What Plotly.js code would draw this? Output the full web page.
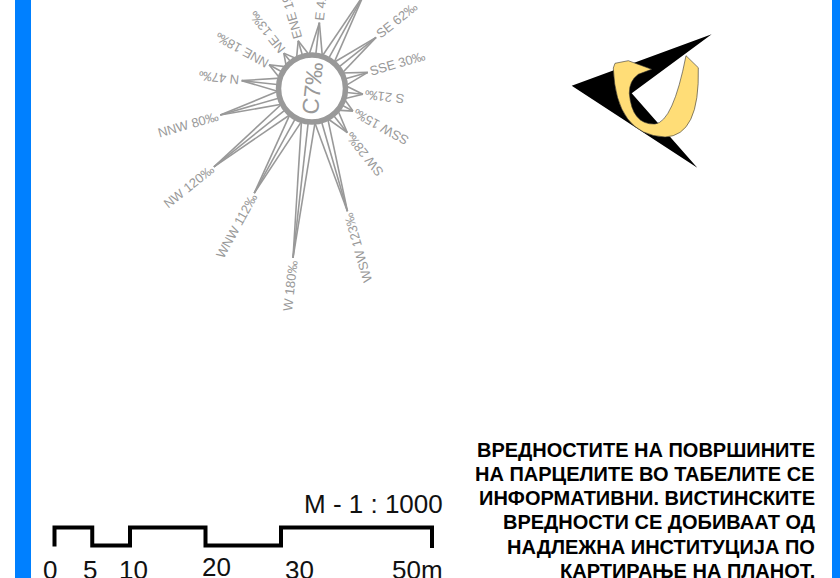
<!DOCTYPE html>
<html>
<head>
<meta charset="utf-8">
<script src="https://cdn.plot.ly/plotly-3.0.1.min.js"></script>
<style>html,body{margin:0;padding:0;background:#fff;overflow:hidden;width:840px;height:578px}#chart{position:absolute;left:0;top:-40px;width:840px;height:658px}</style>
</head>
<body>
<div id="chart"></div>
<script>
// Wind rose data (clockwise order on the page, starting at W)
var directions = ["W","WNW","NW","NNW","N","NNE","NE","ENE","E","ESE","SE","SSE","S","SSW","SW","WSW"];
var frequencies = [180,112,120,80,47,18,13,19,41,95,62,30,21,15,28,123];
var calmLabel = "C7‰";
// Scale bar
var scaleMetres = [0,5,10,20,30,50];
var scaleTickText = ["0","5","10","20","30","50m"];
var scaleLabel = "M - 1 : 1000";
// Note
var noteLines = ["ВРЕДНОСТИТЕ НА ПОВРШИНИТЕ","НА ПАРЦЕЛИТЕ ВО ТАБЕЛИТЕ СЕ","ИНФОРМАТИВНИ. ВИСТИНСКИТЕ","ВРЕДНОСТИ СЕ ДОБИВААТ ОД","НАДЛЕЖНА ИНСТИТУЦИЈА ПО","КАРТИРАЊЕ НА ПЛАНОТ."];

var GREY = "#999999", BLUE = "#0080FF", FONT = "Liberation Sans, Arial, sans-serif";
var cx = 312, cy = 88.5, ringR = 33, baseDeg = 6.4, stepDeg = 22.5;
var canvas = document.createElement("canvas").getContext("2d");
canvas.font = "13px 'Liberation Sans'";

function pol(r, deg){ var a = deg*Math.PI/180; return [cx + r*Math.sin(a), cy - r*Math.cos(a)]; }
function tipRadius(v){ return 35.5 + 0.75*v; }

var sx = [], sy = [], annotations = [];
directions.forEach(function(d, i){
  var k = (i*stepDeg) + 180 + baseDeg, tipR = tipRadius(frequencies[i]);
  var tip = pol(tipR, k);
  [-12, 0, 12].forEach(function(off){
    var b = pol(ringR, k + off);
    sx.push(tip[0], b[0], null); sy.push(tip[1], b[1], null);
  });
  var label = d + " " + frequencies[i] + "‰";
  var w = canvas.measureText(label).width;
  var c = pol(tipR + 2 + w/2, k);
  var turn = i%8;
  var angle = -90 + baseDeg + turn*stepDeg + (turn >= 4 ? 180 : 0);
  if (angle > 180) angle -= 360;
  annotations.push({x:c[0], y:c[1], xref:"x", yref:"y", text:label, showarrow:false,
    xanchor:"center", yanchor:"middle", textangle:angle,
    font:{family:FONT, size:13, color:GREY}});
});
annotations.push({x:cx, y:cy, xref:"x", yref:"y", text:calmLabel, showarrow:false, xanchor:"center", yanchor:"middle",
  textangle:-84, font:{family:FONT, size:23, color:GREY}});

// Scale bar drawn from its metre values
function mx(m){ return 54.5 + 7.55*m; }
var barTop = 527.5, barLow = 545.5;
var barX = [mx(0)], barY = [546.5];
for (var j=0; j<scaleMetres.length-1; j++){
  var lev = (j%2===0 || j===4) ? barTop : barLow;
  barX.push(mx(scaleMetres[j]), mx(scaleMetres[j+1]));
  barY.push(lev, lev);
}
barX.push(mx(50)); barY.push(548);
var tickY = [570,570,570,567,570,570], tickDx = [-4.5,-2,3,11,18,-15];
scaleTickText.forEach(function(t,i){
  annotations.push({x:mx(scaleMetres[i])+tickDx[i], y:tickY[i], xref:"x", yref:"y", text:t, showarrow:false,
    xanchor:"center", yanchor:"middle", font:{family:FONT, size:26, color:"#111"}});
});
annotations.push({x:445, y:503.5, xref:"x", yref:"y", text:scaleLabel, showarrow:false, xanchor:"right", yanchor:"middle",
  font:{family:FONT, size:26, color:"#111"}});

var noteY = [449.5,473.5,497.5,522,546.5,571];
noteLines.forEach(function(t,i){
  annotations.push({x:817, y:noteY[i], xref:"x", yref:"y", text:"<b>"+t+"</b>", showarrow:false, xanchor:"right", yanchor:"middle",
    font:{family:FONT, size:20, color:"#000"}});
});

var traces = [
  {type:"scatter", mode:"lines", x:sx, y:sy, line:{color:GREY, width:1.6}, hoverinfo:"skip", showlegend:false, cliponaxis:false},
  {type:"scatter", mode:"markers", x:[cx], y:[cy], marker:{size:67, color:"#fff", line:{color:GREY, width:5.5}}, hoverinfo:"skip", showlegend:false},
  {type:"scatter", mode:"lines", x:barX, y:barY, line:{color:"#000", width:4, shape:"linear"}, hoverinfo:"skip", showlegend:false}
];

var shapes = [
  {type:"rect", xref:"x", yref:"y", x0:15, x1:31, y0:-40, y1:618, fillcolor:BLUE, line:{width:0}},
  {type:"rect", xref:"x", yref:"y", x0:832, x1:840, y0:-40, y1:618, fillcolor:BLUE, line:{width:0}},
  {type:"path", xref:"x", yref:"y", fillcolor:"#000", line:{width:0},
   path:"M571.7,85.7 L711.7,34.3 L631.7,93.3 L697.3,167.7 Z"},
  {type:"path", xref:"x", yref:"y", fillcolor:"#FFDD77", line:{color:"#333", width:0.6},
   path:"M615,63.3 L628.3,60.7 L651.7,69.3 L638.3,74.3 Q629,81 629.3,93.3 Q632,125 655,124 Q673,122 686,55.7 L698.3,67.7 Q700,136 665,137 Q616,135 613.3,68 Z"}
];

var layout = {
  width:840, height:658, margin:{l:0,r:0,t:0,b:0,pad:0},
  paper_bgcolor:"#fff", plot_bgcolor:"#fff", showlegend:false,
  xaxis:{range:[0,840], visible:false, fixedrange:true},
  yaxis:{range:[618,-40], visible:false, fixedrange:true},
  shapes:shapes, annotations:annotations
};
Plotly.newPlot("chart", traces, layout, {displayModeBar:false, staticPlot:true});
</script>
</body>
</html>
